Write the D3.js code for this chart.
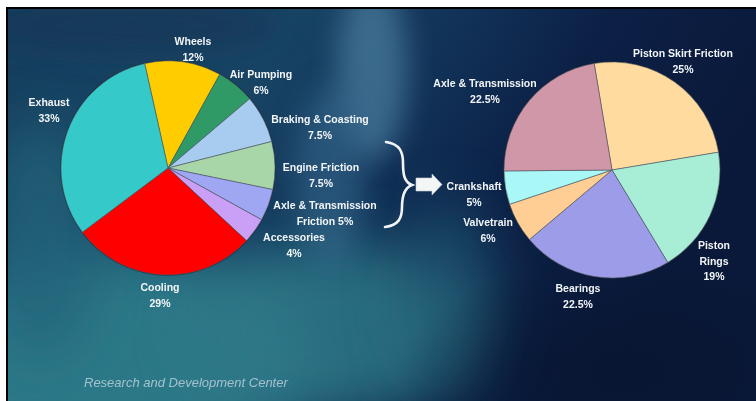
<!DOCTYPE html>
<html>
<head>
<meta charset="utf-8">
<script src="https://cdn.jsdelivr.net/npm/d3@7"></script>
<style>
html,body{margin:0;padding:0;background:#fff;}
svg{display:block;}
text{font-family:"Liberation Sans",Arial,sans-serif;}
</style>
</head>
<body>
<svg id="chart" width="756" height="401"></svg>
<script>
// ---------- DATA ----------
const leftCategories = ["Wheels","Air Pumping","Braking & Coasting","Engine Friction","Axle & Transmission Friction","Accessories","Cooling","Exhaust"];
const leftValues = [12, 6, 7.5, 7.5, 5, 4, 29, 33];
const leftColors = ["#FFCC00","#2F9A66","#A8CCF0","#A9D6A9","#9FA6F2","#C9A0F5","#FF0000","#35C9C9"];
const leftLabelLines = [["Wheels"],["Air Pumping"],["Braking & Coasting"],["Engine Friction"],["Axle & Transmission","Friction {v}%"],["Accessories"],["Cooling"],["Exhaust"]];

const rightCategories = ["Piston Skirt Friction","Piston Rings","Bearings","Valvetrain","Crankshaft","Axle & Transmission"];
const rightValues = [25, 19, 22.5, 6, 5, 22.5];
const rightColors = ["#FFDBA0","#A8EDD5","#9C9CE8","#FFCE94","#AAF7F7","#D097A8"];
const rightLabelLines = [["Piston Skirt Friction"],["Piston","Rings"],["Bearings"],["Valvetrain"],["Crankshaft"],["Axle & Transmission"]];

const footerText = "Research and Development Center";

// ---------- LAYOUT ----------
const W = 756, H = 401;
const leftPie = {cx:168, cy:168, r:107, start:-12.6};
const rightPie = {cx:612, cy:170, r:108, start:-9.5};
// label anchors (center x, first baseline y)
const leftLabelPos = [[193,45],[261,78],[320,123],[321,171],[325,209],[294,241],[160,291],[49,106]];
const rightLabelPos = [[683,57],[714,249],[578,292],[488,226],[474,190],[485,87]];
const lineH = 15.5;

const svg = d3.select("#chart");
const defs = svg.append("defs");

// background gradient
const lg = defs.append("linearGradient").attr("id","bgGrad").attr("x1","0").attr("y1","0").attr("x2","1").attr("y2","0.3");
[[0,"#163f5e"],[0.35,"#184464"],[0.55,"#123358"],[0.75,"#0c1f45"],[1,"#0a1939"]].forEach(s=>lg.append("stop").attr("offset",s[0]).attr("stop-color",s[1]));
function mkBlur(id, sd){
  const f = defs.append("filter").attr("id",id).attr("filterUnits","userSpaceOnUse")
    .attr("x",-200).attr("y",-200).attr("width",W+400).attr("height",H+400);
  f.append("feGaussianBlur").attr("stdDeviation",sd);
}
mkBlur("blurBig",28);
mkBlur("blurSm",14);
const txtBlur = defs.append("filter").attr("id","txtBlur");
txtBlur.append("feGaussianBlur").attr("stdDeviation",0.35);
const rg = defs.append("radialGradient").attr("id","darkRG");
rg.append("stop").attr("offset",0).attr("stop-color","#08142f").attr("stop-opacity",0.7);
rg.append("stop").attr("offset",1).attr("stop-color","#08142f").attr("stop-opacity",0);

// frame
svg.append("rect").attr("width",W).attr("height",H).attr("fill","#ffffff");
svg.append("rect").attr("x",6).attr("y",7).attr("width",W-6).attr("height",H-7).attr("fill","#000");
const bg = svg.append("g");
bg.append("rect").attr("x",8).attr("y",9).attr("width",W-8).attr("height",H-9).attr("fill","url(#bgGrad)");
const clip = defs.append("clipPath").attr("id","bgClip");
clip.append("rect").attr("x",8).attr("y",9).attr("width",W-8).attr("height",H-9);
const glow = bg.append("g").attr("clip-path","url(#bgClip)");
// teal glows
glow.append("ellipse").attr("cx",110).attr("cy",360).attr("rx",200).attr("ry",110).attr("fill","#2d7b8a").attr("opacity",0.95).attr("filter","url(#blurBig)");
glow.append("ellipse").attr("cx",330).attr("cy",330).attr("rx",140).attr("ry",90).attr("fill","#2f7888").attr("opacity",0.85).attr("filter","url(#blurBig)");
glow.append("ellipse").attr("cx",40).attr("cy",240).attr("rx",60).attr("ry",120).attr("fill","#24647a").attr("opacity",0.8).attr("filter","url(#blurBig)");
glow.append("ellipse").attr("cx",372).attr("cy",70).attr("rx",35).attr("ry",90).attr("fill","#4f84a6").attr("opacity",0.65).attr("filter","url(#blurSm)");
glow.append("ellipse").attr("cx",330).attr("cy",175).attr("rx",35).attr("ry",90).attr("fill","#3a7094").attr("opacity",0.5).attr("filter","url(#blurSm)");
glow.append("ellipse").attr("cx",450).attr("cy",300).attr("rx",50).attr("ry",100).attr("fill","#245f77").attr("opacity",0.6).attr("filter","url(#blurBig)");
glow.append("ellipse").attr("cx",620).attr("cy",370).attr("rx",220).attr("ry",110).attr("fill","url(#darkRG)");
glow.append("ellipse").attr("cx",130).attr("cy",25).attr("rx",150).attr("ry",30).attr("fill","#123456").attr("opacity",0.6).attr("filter","url(#blurSm)");

// ---------- PIES ----------
function drawPie(cfg, cats, vals, colors, lines, pos){
  const pie = d3.pie().sort(null).value(d=>d.v)
    .startAngle(cfg.start*Math.PI/180).endAngle(cfg.start*Math.PI/180 + 2*Math.PI);
  const data = cats.map((c,i)=>({c, v:vals[i], color:colors[i], lines:lines[i], pos:pos[i]}));
  const arcs = pie(data);
  const arc = d3.arc().innerRadius(0).outerRadius(cfg.r);
  const g = svg.append("g").attr("transform",`translate(${cfg.cx},${cfg.cy})`);
  g.append("circle").attr("r",cfg.r+0.8).attr("fill","#1b2230").attr("opacity",0.7);
  g.selectAll("path").data(arcs).join("path")
    .attr("d",arc).attr("fill",d=>d.data.color)
    .attr("stroke","#4a5560").attr("stroke-width",0.7).attr("stroke-opacity",0.8);
  const tg = svg.append("g").attr("fill","#f2f5f7").attr("font-size","10.5px").attr("font-weight","bold")
    .attr("text-anchor","middle").attr("filter","url(#txtBlur)");
  arcs.forEach(a=>{
    const d = a.data;
    const ls = d.lines.map(s=>s.replace("{v}",d.v));
    if(!d.lines.some(s=>s.includes("{v}"))) ls.push(d.v+"%");
    ls.forEach((s,k)=>{
      tg.append("text").attr("x",d.pos[0]).attr("y",d.pos[1]+k*lineH).text(s);
    });
  });
}
drawPie(leftPie, leftCategories, leftValues, leftColors, leftLabelLines, leftLabelPos);
drawPie(rightPie, rightCategories, rightValues, rightColors, rightLabelLines, rightLabelPos);

// ---------- BRACE & ARROW ----------
svg.append("path")
  .attr("d","M386,142 C400,144 403,152 403,163 C403,174 404,182 412,185 C404,188 402,196 402,207 C402,218 399,225 385,227")
  .attr("fill","none").attr("stroke","#f0f4f6").attr("stroke-width",2.6).attr("stroke-linecap","round")
  .attr("filter","url(#txtBlur)");
svg.append("path")
  .attr("d","M416,178 L432,178 L432,174 L442,184.5 L432,195 L432,191 L416,191 Z")
  .attr("fill","#f4f6f6").attr("stroke","#c9d2d6").attr("stroke-width",0.6);

// ---------- FOOTER ----------
svg.append("text").attr("x",84).attr("y",387).attr("font-size","13px").attr("font-style","italic")
  .attr("fill","#b9cfdb").attr("opacity",0.85).attr("filter","url(#txtBlur)").text(footerText);
</script>
</body>
</html>
